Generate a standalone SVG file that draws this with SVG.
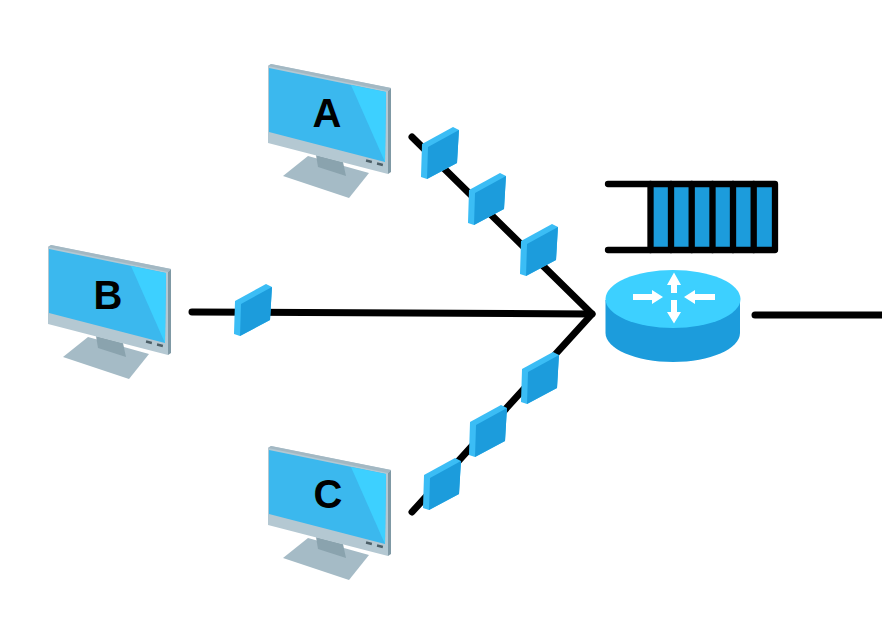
<svg xmlns="http://www.w3.org/2000/svg" width="882" height="632" viewBox="0 0 882 632">
<style>
.wire{fill:none;stroke:#000;stroke-width:7;stroke-linecap:round;stroke-linejoin:round}
.q{fill:none;stroke:#000;stroke-width:6.300;stroke-linecap:round;stroke-linejoin:round}
.label{font-family:"Liberation Sans",Arial,sans-serif;font-weight:700;font-size:40px;fill:#000;text-anchor:middle}
.blue{fill:#1c9cdc}.light{fill:#3bbdf5}.cyan{fill:#3dd0ff}
</style>
<defs>
<g id="packet">
<path class="light" d="M0 17 L31 0 L37 3 L35 36 L5 52 L-1 50 Z"/>
<path class="blue" d="M6 20 L37 3 L35 36 L5 52 Z"/>
</g>
<g id="monitor">
<path fill="#a5bbc6" d="M308 156 L369 173 L349 198 L283 176 Z"/>
<path fill="#8aa3ae" d="M316 155 L343 162 L346 176 L318 167 Z"/>
<path fill="#b4c8d2" d="M268 66 L271 64 L391 88 L388 174 L268 143 Z"/>
<path fill="#7f99a5" d="M388 91 L391 88 L391 172 L388 174 Z"/>
<path fill="#a3b8c3" d="M268 66 L271 64 L391 88 L388 91 Z"/>
<path fill="#3bb8ee" d="M269 68 L386 92 L385 162 L269 132 Z"/>
<path fill="#3dd0ff" d="M351 85 L386 92 L385 162 Z"/>
<rect x="366" y="160" width="6" height="2.500" fill="#4c5f68" transform="rotate(13 369 161)"/>
<rect x="377" y="163" width="6" height="2.500" fill="#4c5f68" transform="rotate(13 380 164)"/>
</g>
</defs>
<g id="connectors">
<path class="wire" d="M412 137 L592 314 L412 512"/>
<path class="wire" d="M192 312 L592 314"/>
<path class="wire" d="M755 315 L882 315"/>
</g>
<g id="node-a"><use href="#monitor"/><text class="label" x="327" y="127">A</text></g>
<g id="node-b"><use href="#monitor" x="-220" y="181"/><text class="label" x="108" y="309">B</text></g>
<g id="node-c"><use href="#monitor" y="382"/><text class="label" x="328" y="508">C</text></g>
<g id="packets">
<use href="#packet" x="422" y="127"/>
<use href="#packet" x="469" y="173"/>
<use href="#packet" x="521" y="224"/>
<use href="#packet" x="235" y="284"/>
<use href="#packet" x="522" y="352"/>
<use href="#packet" x="470" y="405"/>
<use href="#packet" x="424" y="458"/>
</g>
<g id="queue">
<rect class="blue" x="650" y="186" width="124" height="62"/>
<path class="q" d="M608 184 L775 184 L775 250 L608 250"/>
<path class="q" d="M650.500 184V250M671 184V250M691.700 184V250M712.500 184V250M733 184V250M753.700 184V250"/>
</g>
<g id="router">
<path class="blue" d="M605.500 300 V333 C605.500 349 636 362 673 362 C710 362 740 349 740 333 V300 Z"/>
<ellipse class="cyan" cx="673" cy="299" rx="67.500" ry="29"/>
<g fill="#fff">
<path d="M633 294 H652 V290 L663 297 L652 304 V300 H633 Z"/>
<path d="M715 294 H695 V290 L684 297 L695 304 V300 H715 Z"/>
<path d="M671 293 V285 H667 L674 272.500 L681 285 H677 V293 Z"/>
<path d="M671 300 V312 H667 L674 323.500 L681 312 H677 V300 Z"/>
</g>
</g>
</svg>
